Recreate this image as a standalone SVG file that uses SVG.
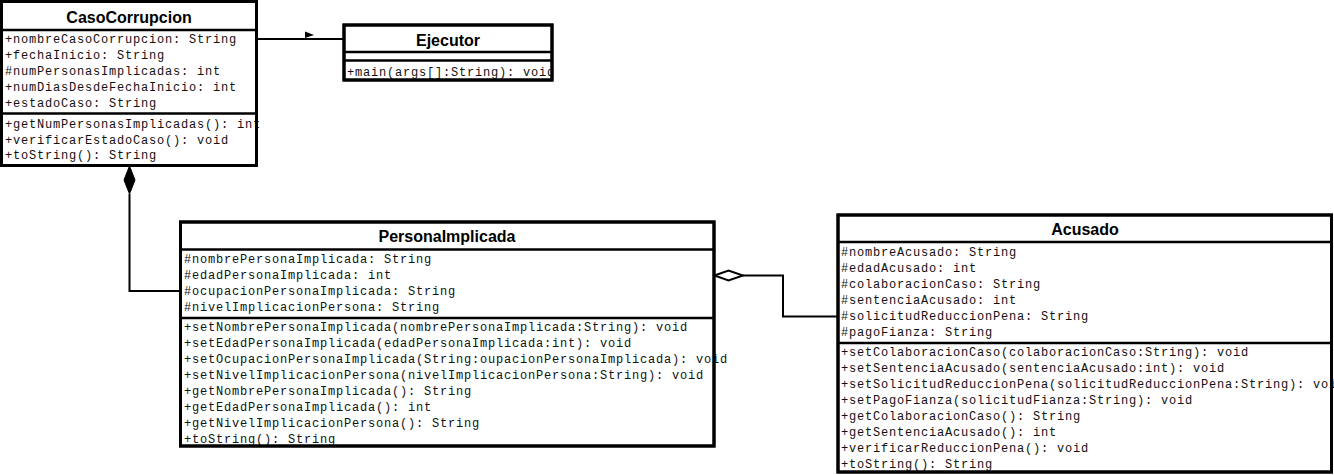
<svg xmlns="http://www.w3.org/2000/svg" width="1334" height="475" viewBox="0 0 1334 475">
<style>
.box{fill:#fff;stroke:#000;stroke-width:3}
.sep{stroke:#000;stroke-width:2.5}
.title{font-family:"Liberation Sans",Arial,sans-serif;font-weight:bold;font-size:16px;text-anchor:middle;fill:#000}
.m{font-family:"Liberation Mono","Courier New",monospace;font-size:12px;letter-spacing:0.8px;fill:#111}
.conn{fill:none;stroke:#000;stroke-width:2}
</style>
<rect width="1334" height="475" fill="#fff"/>
<g id="connectors">
<polyline class="conn" points="257,39 343,39"/>
<polygon points="305,31.5 314,35 305,38" fill="#000"/>
<polyline class="conn" points="129.5,194 129.5,291 180,291"/>
<polygon points="129.5,166 135,180 129.5,194 124,180" fill="#000" stroke="#000" stroke-width="1"/>
<polyline class="conn" points="743,275.5 783,275.5 783,316.5 837,316.5"/>
<polygon points="714.5,275.5 728.5,270.5 743,275.5 728.5,280.5" fill="#fff" stroke="#000" stroke-width="2"/>
</g>
<g id="CasoCorrupcion">
<rect class="box" x="1.5" y="1.5" width="255" height="164"/>
<text class="title" x="129" y="23">CasoCorrupcion</text>
<line class="sep" x1="1.5" y1="30" x2="256.5" y2="30"/>
<text class="m" x="5" y="43">+nombreCasoCorrupcion: String</text>
<text class="m" x="5" y="59">+fechaInicio: String</text>
<text class="m" x="5" y="75">#numPersonasImplicadas: int</text>
<text class="m" x="5" y="91">+numDiasDesdeFechaInicio: int</text>
<text class="m" x="5" y="107">+estadoCaso: String</text>
<line class="sep" x1="1.5" y1="113.5" x2="256.5" y2="113.5"/>
<text class="m" x="5" y="127.5">+getNumPersonasImplicadas(): int</text>
<text class="m" x="5" y="143.5">+verificarEstadoCaso(): void</text>
<text class="m" x="5" y="159">+toString(): String</text>
<rect x="1.5" y="1.5" width="255" height="164" fill="none" stroke="#000" stroke-width="3"/>
</g>
<g id="Ejecutor">
<rect class="box" x="344" y="25" width="208" height="55"/>
<text class="title" x="448" y="46">Ejecutor</text>
<line class="sep" x1="344" y1="52" x2="552" y2="52"/>
<line class="sep" x1="344" y1="60.5" x2="552" y2="60.5"/>
<text class="m" x="347" y="75.5">+main(args[]:String): void</text>
<rect x="344" y="25" width="208" height="55" fill="none" stroke="#000" stroke-width="3"/>
</g>
<g id="PersonaImplicada">
<rect class="box" x="180.5" y="222" width="533.5" height="224"/>
<text class="title" x="447" y="242">PersonaImplicada</text>
<line class="sep" x1="180.5" y1="249.5" x2="714" y2="249.5"/>
<text class="m" x="184" y="263">#nombrePersonaImplicada: String</text>
<text class="m" x="184" y="279">#edadPersonaImplicada: int</text>
<text class="m" x="184" y="295">#ocupacionPersonaImplicada: String</text>
<text class="m" x="184" y="311">#nivelImplicacionPersona: String</text>
<line class="sep" x1="180.5" y1="318" x2="714" y2="318"/>
<text class="m" x="184" y="331">+setNombrePersonaImplicada(nombrePersonaImplicada:String): void</text>
<text class="m" x="184" y="347">+setEdadPersonaImplicada(edadPersonaImplicada:int): void</text>
<text class="m" x="184" y="363">+setOcupacionPersonaImplicada(String:oupacionPersonaImplicada): void</text>
<text class="m" x="184" y="379">+setNivelImplicacionPersona(nivelImplicacionPersona:String): void</text>
<text class="m" x="184" y="395">+getNombrePersonaImplicada(): String</text>
<text class="m" x="184" y="411">+getEdadPersonaImplicada(): int</text>
<text class="m" x="184" y="427">+getNivelImplicacionPersona(): String</text>
<text class="m" x="184" y="442.5">+toString(): String</text>
<rect x="180.5" y="222" width="533.5" height="224" fill="none" stroke="#000" stroke-width="3"/>
</g>
<g id="Acusado">
<rect class="box" x="838" y="215" width="493.5" height="257"/>
<text class="title" x="1085" y="235">Acusado</text>
<line class="sep" x1="838" y1="242" x2="1331.5" y2="242"/>
<text class="m" x="841" y="256">#nombreAcusado: String</text>
<text class="m" x="841" y="272">#edadAcusado: int</text>
<text class="m" x="841" y="288">#colaboracionCaso: String</text>
<text class="m" x="841" y="304">#sentenciaAcusado: int</text>
<text class="m" x="841" y="320">#solicitudReduccionPena: String</text>
<text class="m" x="841" y="336">#pagoFianza: String</text>
<line class="sep" x1="838" y1="343" x2="1331.5" y2="343"/>
<text class="m" x="841" y="356">+setColaboracionCaso(colaboracionCaso:String): void</text>
<text class="m" x="841" y="372">+setSentenciaAcusado(sentenciaAcusado:int): void</text>
<text class="m" x="841" y="388">+setSolicitudReduccionPena(solicitudReduccionPena:String): void</text>
<text class="m" x="841" y="404">+setPagoFianza(solicitudFianza:String): void</text>
<text class="m" x="841" y="420">+getColaboracionCaso(): String</text>
<text class="m" x="841" y="436">+getSentenciaAcusado(): int</text>
<text class="m" x="841" y="452">+verificarReduccionPena(): void</text>
<text class="m" x="841" y="467.5">+toString(): String</text>
<rect x="838" y="215" width="493.5" height="257" fill="none" stroke="#000" stroke-width="3"/>
</g>
</svg>
